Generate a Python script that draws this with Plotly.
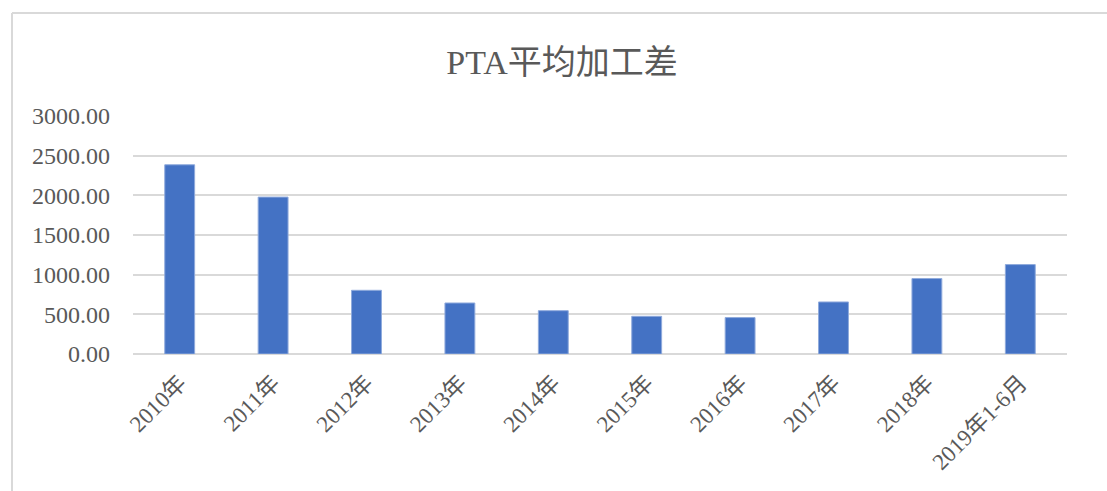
import plotly.graph_objects as go

categories = ["2010年", "2011年", "2012年", "2013年", "2014年", "2015年",
              "2016年", "2017年", "2018年", "2019年1-6月"]
values = [2385, 1978, 803, 643, 546, 475, 459, 656, 951, 1127]
y_ticks = [0, 500, 1000, 1500, 2000, 2500, 3000]
y_tick_labels = ["0.00", "500.00", "1000.00", "1500.00", "2000.00", "2500.00", "3000.00"]
title_text = "PTA平均加工差"

W, H = 1107, 491
L, R, T, B = 133, 40, 116, 137
pw, ph = W - L - R, H - T - B

FONT = "Liberation Serif, Times New Roman, Noto Sans CJK SC, serif"
GRAY = "#595959"

fig = go.Figure(go.Bar(
    x=categories, y=values,
    marker=dict(color="#4472C4", line=dict(color="#8FAADC", width=1)),
))

def px_x(p):
    return (p - L) / pw

def px_y(p):
    return (H - B - p) / ph

fig.update_layout(
    width=W, height=H,
    margin=dict(l=L, r=R, t=T, b=B),
    paper_bgcolor="white", plot_bgcolor="white",
    bargap=0.68,
    showlegend=False,
    title=dict(text=title_text, x=562 / W, xanchor="center",
               y=1 - 62 / H, yanchor="middle", yref="container",
               font=dict(family=FONT, size=34, color=GRAY)),
    font=dict(family=FONT, color=GRAY),
    shapes=[
        dict(type="line", xref="paper", yref="paper",
             x0=px_x(12), x1=px_x(W + 5), y0=px_y(13), y1=px_y(13),
             line=dict(color="#d9d9d9", width=2)),
        dict(type="line", xref="paper", yref="paper",
             x0=px_x(12), x1=px_x(12), y0=px_y(13), y1=px_y(H + 5),
             line=dict(color="#d9d9d9", width=2)),
    ],
)
fig.update_yaxes(
    range=[0, 3000], tickvals=y_ticks, ticktext=y_tick_labels,
    showgrid=True, gridcolor="#d9d9d9", gridwidth=1.5,
    zeroline=True, zerolinecolor="#d9d9d9", zerolinewidth=1.5,
    showline=False, ticks="", ticklabelstandoff=22,
    tickfont=dict(family=FONT, size=24, color=GRAY),
)
fig.update_xaxes(
    showgrid=False, showline=False, ticks="", tickangle=-45,
    ticklabelstandoff=10,
    tickfont=dict(family=FONT, size=23, color=GRAY),
)
fig.write_html("out.html")
